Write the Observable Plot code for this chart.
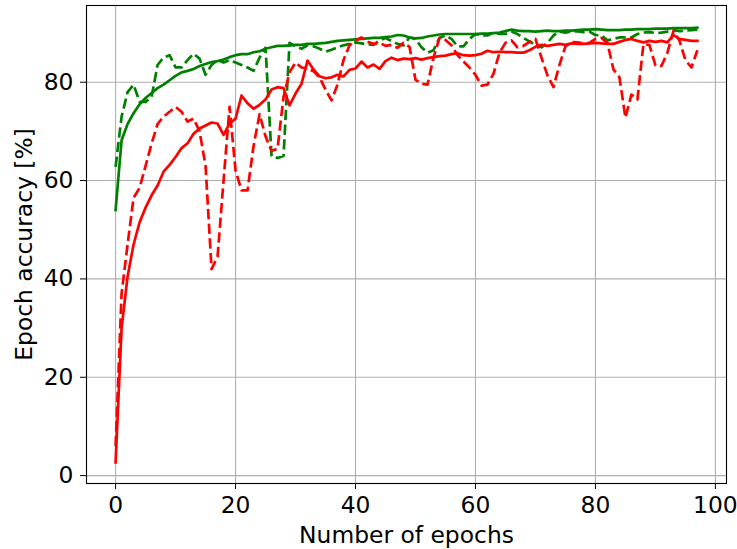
<!DOCTYPE html>
<html>
<head>
<meta charset="utf-8">
<script src="https://cdn.jsdelivr.net/npm/d3@7"></script>
<script src="https://cdn.jsdelivr.net/npm/@observablehq/plot@0.6"></script>
<style>
  html, body { margin: 0; padding: 0; background: white; }
</style>
</head>
<body>
<div id="chart"></div>
<script>
// Epoch index 0..97
const epochs = d3.range(98);

// Green solid
const greenSolid = [
  54.0, 68.2, 71.5, 73.7, 75.5, 76.8, 77.8, 78.8, 79.5, 80.4,
  81.3, 82.0, 82.3, 82.7, 83.3, 83.7, 84.1, 84.3, 84.6, 85.1,
  85.5, 85.7, 85.7, 86.1, 86.3, 86.8, 87.1, 87.4, 87.4, 87.5,
  87.6, 87.6, 87.8, 87.8, 87.9, 88.0, 88.2, 88.4, 88.5, 88.6,
  88.7, 88.8, 88.9, 89.0, 89.0, 89.2, 89.3, 89.6, 89.5, 89.1,
  88.9, 89.0, 89.3, 89.5, 89.7, 89.8, 89.8, 89.8, 89.8, 89.8,
  89.8, 89.9, 89.9, 90.0, 90.1, 90.4, 90.7, 90.5, 90.4, 90.4,
  90.3, 90.4, 90.5, 90.4, 90.4, 90.5, 90.5, 90.6, 90.7, 90.7,
  90.8, 90.7, 90.6, 90.6, 90.6, 90.7, 90.7, 90.8, 90.8, 90.8,
  90.9, 90.9, 90.9, 91.0, 91.0, 91.0, 91.0, 91.1
];

// Green dashed
const greenDashed = [
  62.8, 73.0, 78.0, 79.5, 76.0, 76.0, 77.0, 83.5, 85.0, 85.5,
  83.0, 83.0, 84.5, 85.8, 84.8, 81.5, 83.5, 84.5, 84.0, 84.5,
  84.0, 83.5, 83.0, 82.3, 85.0, 87.0, 65.0, 64.6, 65.0, 88.0,
  87.3, 86.8, 87.5, 87.3, 86.8, 86.2, 86.6, 87.1, 87.5, 87.8,
  88.1, 87.9, 87.7, 87.6, 88.5, 89.0, 88.4, 87.8, 87.5, 89.1,
  88.8, 87.1, 86.0, 86.5, 89.0, 89.5, 88.8, 87.3, 87.3, 88.8,
  89.8, 89.5, 89.5, 90.1, 89.8, 89.8, 90.3, 89.8, 89.0, 88.3,
  87.6, 87.1, 88.0, 89.5, 90.3, 90.1, 90.3, 90.4, 90.2, 90.3,
  89.6, 89.5, 88.5, 88.8, 89.1, 89.1, 89.1, 89.8, 90.1, 90.2,
  90.0, 90.1, 90.3, 90.6, 90.4, 90.5, 90.6, 90.7
];

// Red solid
const redSolid = [
  2.7, 30.0, 40.5, 47.0, 51.5, 54.5, 57.0, 59.0, 61.8, 63.2,
  64.8, 66.6, 67.6, 69.5, 70.6, 71.2, 71.8, 71.6, 69.3, 71.6,
  72.6, 77.3, 75.7, 74.6, 75.4, 76.5, 78.5, 79.0, 78.8, 75.3,
  77.7, 79.7, 84.4, 82.6, 81.2, 80.8, 81.0, 81.5, 81.2, 82.5,
  82.8, 84.2, 83.0, 83.6, 82.7, 84.3, 85.0, 84.5, 84.8, 84.7,
  84.9, 84.6, 84.9, 85.1, 85.3, 85.4, 85.7, 85.9, 85.5, 85.4,
  85.5, 85.8, 86.4, 86.1, 86.2, 86.1, 86.1, 86.0, 86.0, 86.5,
  87.2, 87.6, 87.4, 87.6, 87.8, 87.6, 87.9, 87.8, 87.8, 87.9,
  88.0, 87.9, 87.8, 87.8, 88.2, 88.6, 88.8, 88.4, 88.1, 88.4,
  88.2, 88.4, 88.1, 89.6, 88.8, 88.6, 88.4, 88.4
];

// Red dashed
const redDashed = [
  6.0, 37.0, 47.0, 56.5, 58.5, 63.0, 67.5, 71.5, 73.0, 74.0,
  75.0, 74.0, 72.0, 72.6, 70.0, 63.0, 42.0, 44.5, 60.0, 75.0,
  62.0, 58.0, 58.0, 67.0, 73.5, 69.0, 66.0, 66.5, 77.0, 82.0,
  84.0, 83.0, 82.8, 82.2, 81.0, 78.5, 76.3, 79.5, 84.5, 87.5,
  88.5, 89.1, 88.2, 87.8, 88.0, 87.4, 87.6, 87.0, 88.0, 87.2,
  80.5, 79.7, 79.5, 85.0, 89.0, 88.6, 87.5, 85.5, 84.2, 83.0,
  81.5, 79.3, 79.5, 81.7, 86.0, 88.0, 88.5, 87.1, 87.4, 88.2,
  88.8, 85.0, 81.4, 79.0, 83.5, 87.3, 88.2, 88.1, 87.9, 88.0,
  88.8, 89.0, 88.0, 82.6, 81.0, 72.8, 77.5, 76.5, 87.7, 87.6,
  83.4, 83.3, 86.0, 90.4, 88.5, 84.5, 83.0, 86.5
];

const xTicks = [0, 20, 40, 60, 80, 100];
const yTicks = [0, 20, 40, 60, 80];
const xLabel = "Number of epochs";
const yLabel = "Epoch accuracy [%]";

const series = [
  {values: greenSolid, color: "#008000", dash: null},
  {values: greenDashed, color: "#008000", dash: "10.3,4.4"},
  {values: redSolid, color: "#ff0000", dash: null},
  {values: redDashed, color: "#ff0000", dash: "10.3,4.4"}
];

const lineMarks = series.map(s =>
  Plot.line(epochs.map(e => ({epoch: e, acc: s.values[e]})), {
    x: "epoch",
    y: "acc",
    stroke: s.color,
    strokeWidth: 2.7,
    strokeDasharray: s.dash || undefined,
    strokeLinejoin: "round",
    strokeLinecap: s.dash ? "butt" : "square"
  })
);

const FS = 23.4;

const chart = Plot.plot({
  width: 737,
  height: 549,
  marginLeft: 86,
  marginRight: 11,
  marginTop: 5,
  marginBottom: 66,
  style: {fontFamily: "DejaVu Sans", fontSize: FS + "px", color: "black", background: "white"},
  x: {domain: [-4.85, 101.85]},
  y: {domain: [-1.6, 95.6]},
  marks: [
    Plot.gridX(xTicks, {stroke: "#b0b0b0", strokeOpacity: 1, strokeWidth: 1.1}),
    Plot.gridY(yTicks, {stroke: "#b0b0b0", strokeOpacity: 1, strokeWidth: 1.1}),
    ...lineMarks,
    Plot.frame({stroke: "black", strokeWidth: 1.1}),
    Plot.axisX(xTicks, {tickSize: 6, tickPadding: 7, label: null, fontSize: FS}),
    Plot.axisY(yTicks, {tickSize: 6, tickPadding: 7, label: null, fontSize: FS}),
    Plot.text([xLabel], {frameAnchor: "bottom", text: d => d, dy: 52, fontSize: FS, textAnchor: "middle", lineAnchor: "middle"}),
    Plot.text([yLabel], {frameAnchor: "left", text: d => d, dx: -62, rotate: -90, fontSize: FS, textAnchor: "middle", lineAnchor: "middle"})
  ]
});

document.getElementById("chart").appendChild(chart);
</script>
</body>
</html>
